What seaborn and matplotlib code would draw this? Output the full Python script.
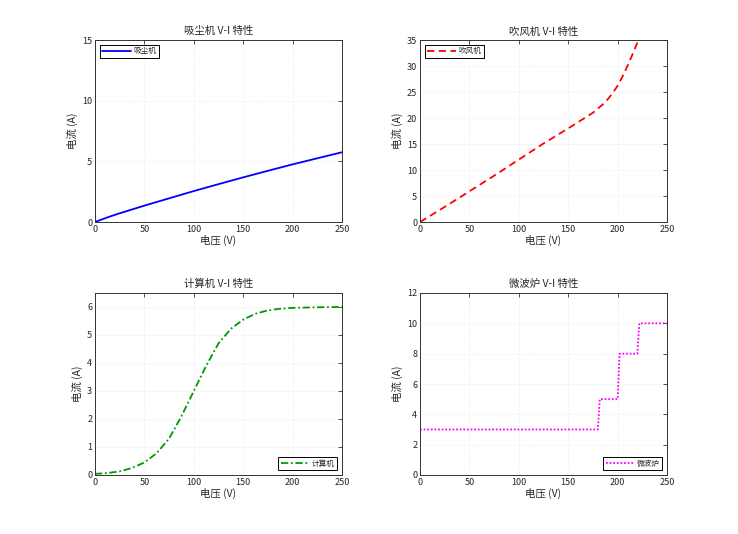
import numpy as np
import pandas as pd
import matplotlib
matplotlib.use("Agg")
import matplotlib.pyplot as plt
import seaborn as sns

sns.set_theme(style="white")
plt.rcParams['font.family'] = ['Noto Sans CJK SC', 'DejaVu Sans']
plt.rcParams['axes.unicode_minus'] = False

# ---- data ----
vac_v = [0, 12.5, 25, 50, 75, 100, 125, 150, 175, 200, 225, 250]
vac_i = [0, 0.38, 0.72, 1.35, 1.95, 2.55, 3.12, 3.68, 4.22, 4.75, 5.25, 5.75]

blow_v = [0, 25, 50, 75, 100, 125, 150, 165, 175, 185, 190, 195, 200, 205, 210, 215, 220, 225, 230]
blow_i = [0, 2.9, 5.9, 8.9, 12.0, 15.1, 18.0, 19.8, 21.0, 22.6, 23.6, 24.8, 26.2, 28.0, 30.0, 32.2, 34.5, 37.0, 39.5]

pc_v = [0, 12.5, 25, 37.5, 50, 62.5, 75, 87.5, 100, 112.5, 125, 137.5, 150, 162.5, 175, 187.5, 200, 225, 250]
pc_i = [0.04, 0.07, 0.13, 0.25, 0.45, 0.78, 1.3, 2.1, 3.0, 3.9, 4.7, 5.22, 5.55, 5.76, 5.88, 5.94, 5.97, 5.99, 6.0]

mw_v = [0, 180, 182, 200, 202, 220, 222, 250]
mw_i = [3, 3, 5, 5, 8, 8, 10, 10]

titles = ['吸尘机 V-I 特性', '吹风机 V-I 特性', '计算机 V-I 特性', '微波炉 V-I 特性']
names = ['吸尘机', '吹风机', '计算机', '微波炉']
colors = ['#0000ff', '#ff0000', '#009900', '#ff00ff']
styles = ['-', (0, (4, 2.5)), (0, (4, 1.5, 1, 1.5)), (0, (1, 1))]
ylims = [(0, 15), (0, 35), (0, 6.5), (0, 12)]
yticks = [[0, 5, 10, 15], [0, 5, 10, 15, 20, 25, 30, 35], [0, 1, 2, 3, 4, 5, 6], [0, 2, 4, 6, 8, 10, 12]]
legend_loc = ['upper left', 'upper left', 'lower right', 'lower right']
data = [(vac_v, vac_i), (blow_v, blow_i), (pc_v, pc_i), (mw_v, mw_i)]

fig = plt.figure(figsize=(7.38, 5.34), dpi=100)
W, H = 738, 534
boxes = [(95, 40), (420, 40), (95, 293), (420, 293)]
aw, ah = 247, 182

for k in range(4):
    x0, y0 = boxes[k]
    ax = fig.add_axes([x0 / W, 1 - (y0 + ah) / H, aw / W, ah / H])
    df = pd.DataFrame({'V': data[k][0], 'I': data[k][1]})
    sns.lineplot(data=df, x='V', y='I', ax=ax, color=colors[k], linestyle=styles[k],
                 linewidth=1.3, label=names[k], estimator=None, sort=False)
    ax.set_xlim(0, 250)
    ax.set_ylim(*ylims[k])
    ax.set_xticks([0, 50, 100, 150, 200, 250])
    ax.set_yticks(yticks[k])
    ax.set_title(titles[k], fontsize=7.5, pad=4)
    ax.set_xlabel('电压 (V)', fontsize=7.5, labelpad=1)
    ax.set_ylabel('电流 (A)', fontsize=7.5, labelpad=3)
    ax.tick_params(axis='both', labelsize=6.5, direction='in', length=3, width=0.6,
                   top=True, right=True, pad=2, color='#333333')
    ax.grid(True, linestyle=':', linewidth=0.4, color='#dddddd')
    for s in ax.spines.values():
        s.set_linewidth(0.7)
        s.set_color('#333333')
    leg = ax.legend(loc=legend_loc[k], fontsize=5.5, fancybox=False, framealpha=1,
                    handlelength=3.8, handletextpad=0.3, borderpad=0.35,
                    borderaxespad=0.6)
    leg.get_frame().set_edgecolor('black')
    leg.get_frame().set_linewidth(0.7)

fig.savefig('out.png', dpi=100)
